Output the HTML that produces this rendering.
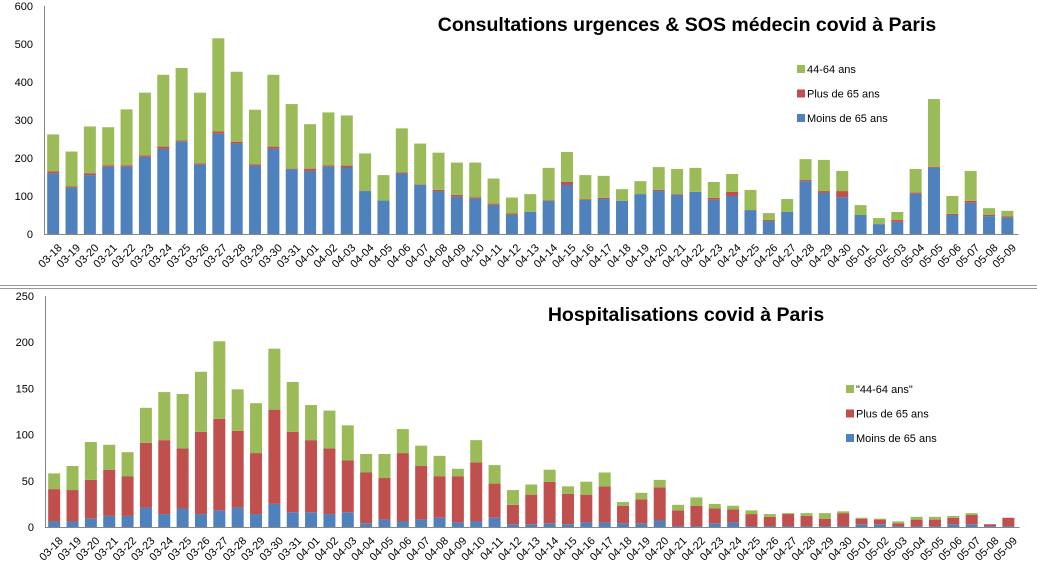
<!DOCTYPE html>
<html><head><meta charset="utf-8">
<style>
html,body{margin:0;padding:0;background:#fff;}
svg{display:block;font-family:"Liberation Sans",Calibri,sans-serif;}
</style></head>
<body>
<svg id="c" width="1037" height="569" viewBox="0 0 1037 569" xmlns="http://www.w3.org/2000/svg">
<line x1="0" y1="285.5" x2="1037" y2="285.5" stroke="#999" stroke-width="1"/>
<line x1="0" y1="288.5" x2="1037" y2="288.5" stroke="#999" stroke-width="1"/>
<g id="g1"></g>
<g id="g2"></g>
</svg>
<script>
const categories = ["03-18","03-19","03-20","03-21","03-22","03-23","03-24","03-25","03-26","03-27","03-28","03-29","03-30","03-31","04-01","04-02","04-03","04-04","04-05","04-06","04-07","04-08","04-09","04-10","04-11","04-12","04-13","04-14","04-15","04-16","04-17","04-18","04-19","04-20","04-21","04-22","04-23","04-24","04-25","04-26","04-27","04-28","04-29","04-30","05-01","05-02","05-03","05-04","05-05","05-06","05-07","05-08","05-09"];
// Chart 1: consultations
const c1Moins = [160,122,155,177,177,203,224,244,182,264,238,180,224,170,166,177,175,113,88,159,129,112,98,93,77,51,58,87,129,90,92,87,105,113,103,111,90,100,63,34,58,139,108,97,50,26,32,106,174,50,82,47,43];
const c1Plus = [5,3,5,4,4,4,6,2,4,6,5,3,6,2,6,4,5,1,0,3,1,4,5,3,3,3,0,2,8,2,3,0,0,3,2,0,5,11,0,3,0,3,5,16,0,0,5,3,3,3,5,3,3];
const c1Age = [97,92,123,100,147,165,189,191,186,245,184,144,189,170,117,139,132,98,67,116,108,98,85,92,66,42,47,85,79,63,58,31,34,60,66,63,42,47,53,18,34,55,82,53,26,16,21,62,178,47,79,18,15];
const c1Ticks = [0,100,200,300,400,500,600];
// Chart 2: hospitalisations
const c2Moins = [6,6,9,12,12,21,14,20,14,18,21,14,25,16,16,14,16,4,8,6,8,10,5,6,10,3,3,4,3,5,5,4,4,7,1,1,4,5,1,1,1,1,1,1,3,3,1,1,1,3,3,1,1];
const c2Plus = [35,34,42,50,43,70,80,65,89,99,83,66,102,87,78,71,56,55,45,74,58,45,50,64,37,21,32,45,33,30,39,19,26,36,17,22,16,14,13,10,13,11,8,14,6,5,3,7,7,7,10,2,9];
const c2Age = [17,26,41,27,26,38,52,59,65,84,45,54,66,54,38,41,38,20,26,26,22,22,8,24,20,16,11,13,8,14,15,4,7,8,6,9,5,4,4,3,1,3,6,2,1,1,2,3,3,2,2,0,0];
const c2Ticks = [0,50,100,150,200,250];

const NS="http://www.w3.org/2000/svg";
function mk(parent,tag,attrs,text){const e=document.createElementNS(NS,tag);for(const k in attrs)e.setAttribute(k,attrs[k]);if(text!==undefined)e.textContent=text;parent.appendChild(e);return e;}

function drawChart(gid,o){
  const g=document.getElementById(gid);
  const x0=o.x0, band=18.35, bw=12;
  const y=v=>o.yBase-(v/o.max)*(o.yBase-o.yTop);
  const xc=i=>x0+band*(i+0.5);
  // axes
  const ya=mk(g,'line',{x1:x0+0.5,y1:o.yTop,x2:x0+0.5,y2:o.yBase,stroke:'#868686'});
  
  
  o.ticks.forEach(t=>{
    const tl=mk(g,'text',{x:x0-11,y:y(t)+4,'text-anchor':'end','font-size':'11',fill:'#000'},t);
    
    
  });
  const colors=['#4f81bd','#c0504d','#9bbb59'];
  categories.forEach((c,i)=>{
    const vals=[o.s[0][i],o.s[1][i],o.s[2][i]];
    let acc=0;
    vals.forEach((v,k)=>{
      if(v>0){
        const r=mk(g,'rect',{x:xc(i)-bw/2,y:y(acc+v),width:bw,height:y(acc)-y(acc+v),fill:colors[k]});
        
        
      }
      acc+=v;
    });
    const lx=xc(i)+4, ly=o.yBase+9;
    const tl=mk(g,'text',{x:lx,y:ly,'text-anchor':'end','font-size':'11',fill:'#000',transform:`rotate(-45 ${lx} ${ly})`,dy:'0.7em'},c);
    
    
  });
  const xa=mk(g,'line',{x1:x0,y1:o.yBase+0.5,x2:x0+band*categories.length+2,y2:o.yBase+0.5,stroke:'#868686'});
  
  
  const ti=mk(g,'text',{x:o.titleX,y:o.titleY,'text-anchor':'middle','font-size':'19.5','font-weight':'bold',fill:'#000'},o.title);
  
  
  o.legend.forEach((lab,k)=>{
    const ly=o.legY+k*24.5;
    const sw=mk(g,'rect',{x:o.legX,y:ly-4,width:8,height:8,fill:colors[2-k]});
    
    
    const lt=mk(g,'text',{x:o.legX+10,y:ly+4,'font-size':'11',fill:'#000'},lab);
    
    
  });
}
drawChart('g1',{x0:44,yBase:234,yTop:6,max:600,ticks:c1Ticks,s:[c1Moins,c1Plus,c1Age],names:['moins65','plus65','44-64'],
  title:'Consultations urgences & SOS médecin covid à Paris',titleX:687,titleY:31,legX:797,legY:69,
  legend:['44-64 ans','Plus de 65 ans','Moins de 65 ans']});
drawChart('g2',{x0:45,yBase:527,yTop:296,max:250,ticks:c2Ticks,s:[c2Moins,c2Plus,c2Age],names:['moins65','plus65','44-64'],
  title:'Hospitalisations covid à Paris',titleX:686,titleY:321,legX:846,legY:389,
  legend:['"44-64 ans"','Plus de 65 ans','Moins de 65 ans']});
</script>
</body></html>
